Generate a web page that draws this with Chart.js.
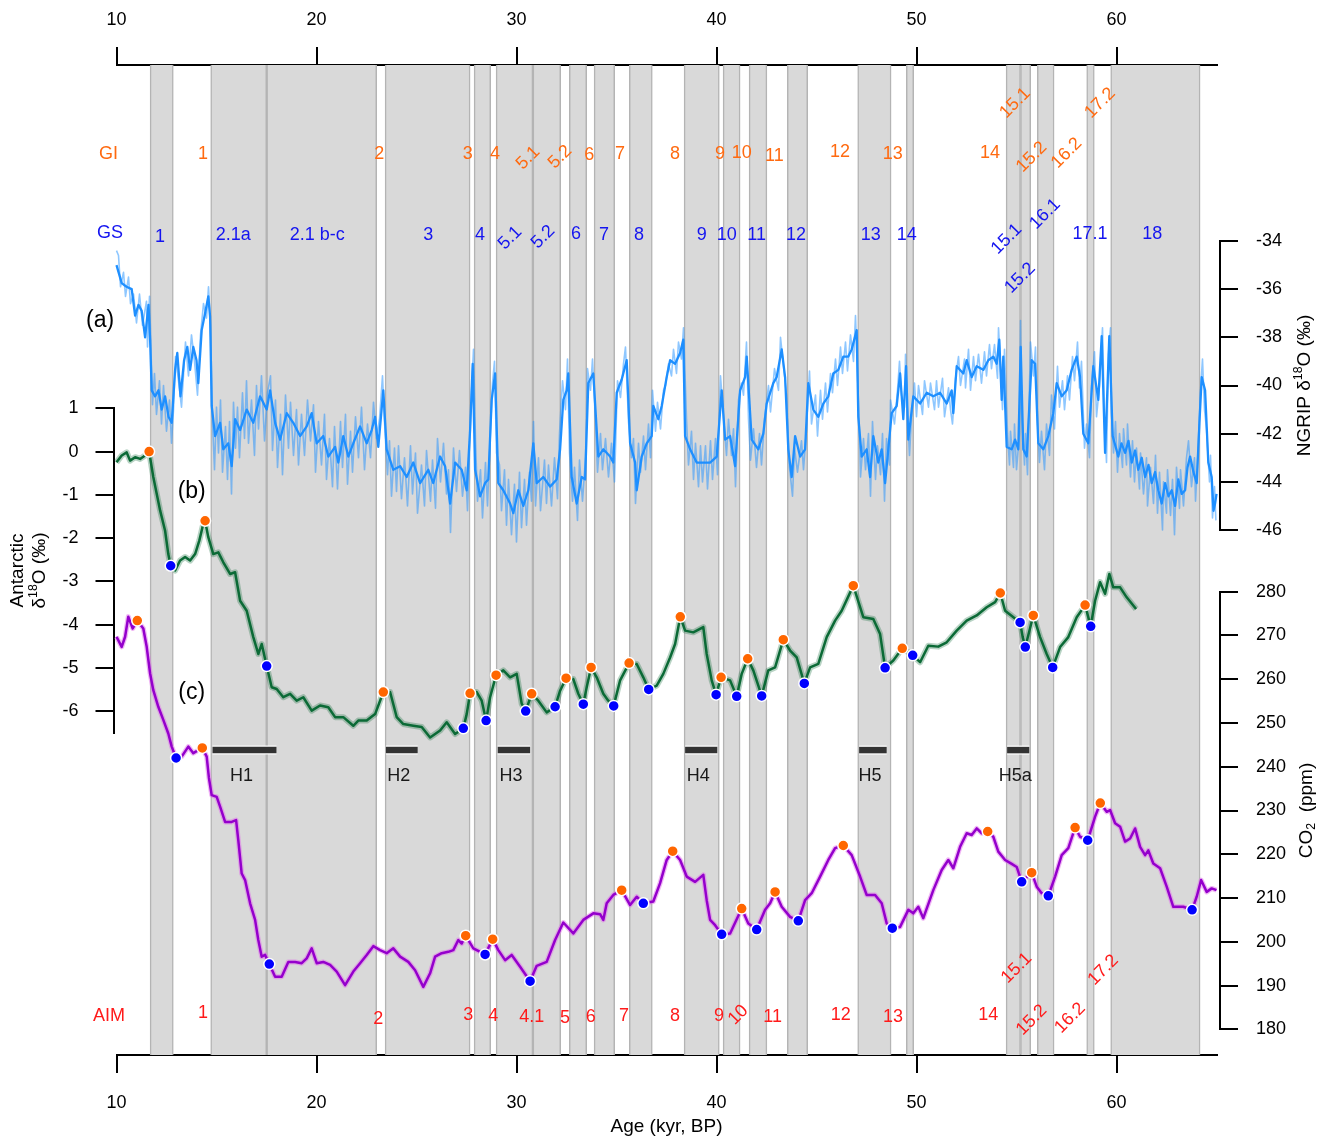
<!DOCTYPE html>
<html>
<head>
<meta charset="utf-8">
<script src="https://cdn.jsdelivr.net/npm/chart.js@4.4.1/dist/chart.umd.min.js"></script>
<style>
  body { margin: 0; background: #fff; }
</style>
</head>
<body>
<canvas id="grafico" width="1325" height="1136"></canvas>
<script>
// ---- data (age in kyr BP) ----
const xTicks = [10, 20, 30, 40, 50, 60];
const antTicks = [1, 0, -1, -2, -3, -4, -5, -6];
const ngripTicks = [-34, -36, -38, -40, -42, -44, -46];
const co2Ticks = [280, 270, 260, 250, 240, 230, 220, 210, 200, 190, 180];

// Greenland stadials (grey bands)
const stadials = [[11.68, 12.84], [14.71, 17.51], [17.51, 23.01], [23.43, 27.68], [27.88, 28.71],
  [28.98, 30.82], [30.82, 32.21], [32.64, 33.51], [33.88, 34.91], [35.64, 36.79], [38.38, 40.14],
  [40.33, 41.18], [41.63, 42.52], [43.54, 44.56], [47.06, 48.73], [49.49, 49.86], [54.48, 55.2],
  [55.2, 55.71], [56.04, 56.88], [58.51, 58.89], [59.71, 64.18]];

// Heinrich events
const heinrich = [[14.8, 18.0], [23.47, 25.06], [29.06, 30.68], [38.43, 40.04], [47.13, 48.51], [54.53, 55.64]];
const heinrichNames = ['H1', 'H2', 'H3', 'H4', 'H5', 'H5a'];

// NGRIP d18O (permil), smoothed
const ngrip = [[10.0,-35.0],[10.26,-35.75],[10.5,-35.9],[10.76,-36.0],[10.93,-37.1],[11.1,-36.65],[11.26,-36.9],[11.43,-38.0],[11.6,-36.65],[11.68,-38.1],[11.76,-40.2],[11.93,-40.45],[12.1,-40.2],[12.26,-41.0],[12.43,-40.45],[12.6,-41.3],[12.76,-41.55],[12.93,-39.35],[13.04,-38.65],[13.2,-40.45],[13.38,-38.95],[13.54,-38.4],[13.68,-39.35],[13.84,-38.4],[14.0,-38.95],[14.09,-39.9],[14.26,-37.7],[14.43,-37.0],[14.59,-36.3],[14.68,-37.15],[14.76,-40.85],[14.93,-42.1],[15.18,-41.55],[15.34,-42.65],[15.59,-42.4],[15.76,-43.35],[15.93,-41.4],[16.18,-41.85],[16.51,-41.0],[16.84,-41.55],[17.18,-40.45],[17.51,-41.0],[17.68,-40.2],[17.93,-41.55],[18.18,-42.25],[18.51,-41.15],[18.84,-41.55],[19.18,-42.1],[19.51,-41.7],[19.76,-41.15],[20.01,-42.4],[20.34,-42.1],[20.59,-42.95],[20.93,-42.55],[21.09,-43.2],[21.34,-42.1],[21.59,-42.95],[21.84,-42.4],[22.18,-41.7],[22.51,-42.4],[22.76,-41.85],[22.93,-41.3],[23.09,-42.55],[23.34,-40.2],[23.51,-42.65],[23.84,-43.5],[24.18,-43.35],[24.51,-43.8],[24.84,-43.2],[25.18,-44.05],[25.59,-43.5],[25.84,-44.05],[26.18,-42.95],[26.43,-43.35],[26.68,-44.9],[26.93,-43.2],[27.26,-43.5],[27.51,-44.35],[27.68,-41.85],[27.81,-39.1],[27.93,-43.5],[28.18,-44.6],[28.43,-44.05],[28.59,-43.9],[28.76,-40.6],[28.93,-39.5],[29.09,-44.05],[29.34,-44.35],[29.68,-44.9],[29.84,-45.3],[30.09,-44.35],[30.34,-45.0],[30.59,-44.35],[30.84,-42.4],[31.01,-44.05],[31.34,-43.8],[31.68,-44.2],[32.01,-43.9],[32.18,-42.65],[32.34,-40.6],[32.51,-40.2],[32.59,-39.5],[32.76,-43.8],[33.01,-44.9],[33.26,-43.8],[33.43,-43.9],[33.59,-39.9],[33.84,-39.5],[34.09,-42.95],[34.34,-42.65],[34.68,-42.95],[34.84,-43.2],[35.01,-40.3],[35.26,-39.75],[35.51,-38.95],[35.68,-42.4],[35.93,-43.2],[36.01,-44.35],[36.26,-42.95],[36.51,-42.4],[36.76,-42.1],[36.84,-40.85],[37.09,-41.4],[37.26,-40.85],[37.51,-39.65],[37.68,-38.95],[37.93,-39.1],[38.18,-38.65],[38.34,-38.1],[38.43,-42.1],[38.68,-42.65],[39.01,-43.2],[39.34,-43.2],[39.68,-43.2],[40.01,-42.95],[40.26,-40.2],[40.43,-42.25],[40.68,-42.1],[40.93,-43.35],[41.18,-40.2],[41.43,-39.65],[41.51,-38.8],[41.76,-42.25],[42.09,-42.65],[42.34,-42.0],[42.51,-40.75],[42.84,-39.9],[43.01,-39.65],[43.26,-38.5],[43.43,-39.65],[43.59,-42.65],[43.76,-43.8],[43.93,-42.1],[44.18,-42.95],[44.43,-42.65],[44.59,-39.9],[44.84,-41.0],[45.09,-41.3],[45.34,-40.75],[45.59,-40.45],[45.84,-39.5],[46.09,-39.35],[46.34,-38.8],[46.59,-38.8],[46.76,-38.5],[47.01,-37.7],[47.09,-41.3],[47.26,-42.95],[47.51,-42.65],[47.68,-43.8],[47.84,-42.1],[48.09,-43.2],[48.26,-42.65],[48.43,-44.05],[48.59,-42.65],[48.76,-41.15],[49.01,-40.85],[49.18,-39.5],[49.34,-41.4],[49.48,-39.2],[49.59,-42.25],[49.84,-40.45],[50.18,-40.75],[50.51,-40.3],[50.84,-40.45],[51.18,-40.3],[51.51,-40.75],[51.76,-40.2],[51.84,-41.15],[52.01,-39.2],[52.34,-39.5],[52.51,-38.95],[52.76,-39.65],[53.01,-39.2],[53.34,-39.35],[53.59,-38.95],[53.84,-38.8],[54.01,-39.1],[54.14,-38.1],[54.26,-40.6],[54.34,-38.8],[54.51,-42.55],[54.76,-42.65],[54.93,-42.25],[55.09,-42.65],[55.21,-38.4],[55.34,-42.65],[55.51,-42.95],[55.76,-38.95],[55.93,-39.1],[56.09,-42.4],[56.34,-42.65],[56.59,-42.1],[56.84,-41.15],[57.01,-39.9],[57.26,-40.45],[57.51,-40.2],[57.76,-39.35],[58.01,-38.8],[58.18,-39.65],[58.34,-42.0],[58.59,-42.4],[58.84,-39.2],[59.09,-40.6],[59.26,-37.95],[59.43,-42.8],[59.64,-37.95],[59.81,-42.1],[60.09,-42.95],[60.25,-42.4],[60.43,-42.8],[60.6,-42.3],[60.76,-43.2],[60.93,-42.7],[61.09,-43.5],[61.26,-43.0],[61.43,-43.8],[61.6,-43.3],[61.76,-44.05],[61.93,-43.6],[62.09,-44.35],[62.26,-44.9],[62.43,-44.05],[62.6,-44.6],[62.76,-44.35],[62.93,-45.0],[63.09,-43.9],[63.26,-44.5],[63.43,-44.35],[63.55,-43.4],[63.68,-42.95],[63.85,-43.6],[64.01,-44.05],[64.15,-41.5],[64.26,-39.65],[64.43,-40.2],[64.59,-43.2],[64.76,-43.8],[64.85,-45.2],[64.93,-44.9],[65.0,-44.5]];

// NGRIP d18O (permil), raw
const ngripRaw = [[10.0,-34.4],[10.1,-34.6],[10.2,-35.9],[10.35,-35.3],[10.45,-36.3],[10.6,-35.5],[10.7,-36.6],[10.85,-36.2],[11.0,-37.4],[11.15,-36.2],[11.3,-37.5],[11.5,-36.5],[11.55,-38.4],[11.65,-36.3],
  [11.8,-40.8],[11.9,-39.5],[12.0,-41.2],[12.15,-39.8],[12.25,-41.6],[12.35,-40.0],[12.5,-41.9],[12.65,-40.6],[12.75,-42.4],[12.85,-41.0],[12.95,-38.8],
  [13.1,-39.8],[13.25,-40.9],[13.45,-38.2],[13.6,-39.6],[13.75,-37.9],[13.9,-39.0],[14.05,-40.4],[14.2,-37.9],[14.35,-36.6],[14.5,-37.2],[14.6,-35.9],[14.7,-37.5],
  [14.8,-41.5],[14.9,-43.5],[15.0,-40.9],[15.1,-42.8],[15.2,-40.6],[15.3,-43.6],[15.45,-41.7],[15.55,-43.9],[15.65,-41.5],[15.75,-44.5],[15.85,-40.7],[15.95,-42.6],[16.05,-40.9],[16.15,-43.0],[16.3,-40.3],[16.4,-42.2],[16.5,-39.8],[16.6,-42.4],[16.75,-40.6],[16.9,-42.9],[17.0,-40.0],[17.1,-41.8],[17.25,-39.6],[17.4,-42.3],[17.55,-40.3],[17.7,-39.6],[17.8,-42.7],[17.95,-40.6],[18.05,-43.4],[18.2,-41.2],[18.3,-43.7],[18.45,-40.4],[18.6,-42.6],[18.7,-40.7],[18.85,-42.9],[19.0,-41.0],[19.1,-43.3],[19.25,-41.2],[19.4,-42.9],[19.55,-40.6],[19.7,-42.3],[19.85,-40.8],[19.95,-43.6],[20.1,-41.5],[20.25,-43.3],[20.4,-41.2],[20.5,-43.9],[20.65,-42.2],[20.8,-44.2],[20.9,-41.7],[21.05,-44.3],[21.2,-41.5],[21.3,-43.4],[21.45,-41.2],[21.55,-44.1],[21.7,-41.9],[21.8,-43.6],[21.95,-41.3],[22.1,-43.0],[22.25,-40.9],[22.4,-43.5],[22.55,-41.6],[22.7,-43.0],[22.85,-40.7],[23.0,-42.2],[23.15,-41.4],[23.3,-39.6],[23.4,-41.5],
  [23.55,-43.7],[23.65,-42.3],[23.75,-44.6],[23.9,-42.6],[24.0,-44.4],[24.1,-42.5],[24.25,-44.7],[24.4,-43.0],[24.55,-45.0],[24.7,-42.5],[24.8,-44.5],[24.95,-42.8],[25.05,-45.3],[25.25,-43.3],[25.4,-45.0],[25.5,-42.7],[25.7,-44.8],[25.8,-43.1],[25.95,-45.1],[26.05,-42.2],[26.2,-44.0],[26.35,-42.4],[26.5,-44.5],[26.6,-43.5],[26.7,-46.1],[26.85,-42.6],[27.0,-44.4],[27.15,-42.7],[27.3,-44.6],[27.45,-43.4],[27.55,-45.2],
  [27.75,-40.3],[27.85,-38.5],[27.95,-42.3],[28.05,-44.8],[28.2,-43.5],[28.3,-45.5],[28.45,-43.2],[28.55,-45.0],[28.65,-42.9],[28.8,-39.9],[28.9,-39.0],[29.0,-42.8],
  [29.15,-43.3],[29.25,-45.2],[29.4,-43.5],[29.5,-45.8],[29.6,-43.9],[29.75,-46.2],[29.9,-44.1],[30.0,-46.5],[30.15,-43.6],[30.25,-45.9],[30.4,-43.9],[30.5,-45.8],[30.65,-43.6],[30.75,-44.8],[30.85,-41.5],[30.95,-45.0],[31.1,-43.0],[31.2,-45.2],[31.4,-43.1],[31.5,-44.9],[31.6,-43.3],[31.75,-45.0],[31.9,-43.0],[32.05,-44.7],[32.15,-42.0],
  [32.3,-39.8],[32.45,-41.0],[32.55,-38.9],[32.65,-42.8],[32.8,-44.8],[32.9,-43.4],[33.05,-45.6],[33.15,-43.1],[33.3,-44.8],[33.45,-43.0],[33.55,-39.3],[33.7,-40.2],[33.8,-38.9],[33.95,-41.5],[34.05,-43.6],[34.2,-42.0],[34.3,-43.5],[34.45,-42.2],[34.6,-43.8],[34.75,-42.4],[34.9,-44.0],[35.05,-39.8],[35.2,-40.5],[35.35,-39.1],[35.45,-38.4],[35.6,-41.5],[35.75,-43.0],[35.85,-42.2],[35.95,-44.9],
  [36.1,-42.4],[36.2,-43.6],[36.35,-42.1],[36.45,-43.5],[36.6,-41.6],[36.7,-43.0],[36.8,-40.2],[36.95,-41.9],[37.05,-40.7],[37.2,-41.8],[37.35,-40.2],[37.45,-40.0],[37.6,-39.1],[37.75,-39.6],[37.85,-38.5],[38.0,-39.5],[38.1,-38.2],[38.25,-38.9],[38.35,-37.6],
  [38.5,-41.4],[38.6,-43.3],[38.75,-41.9],[38.85,-43.9],[38.95,-42.4],[39.1,-44.2],[39.2,-42.5],[39.3,-44.0],[39.45,-42.5],[39.55,-44.3],[39.7,-42.3],[39.8,-43.9],[39.95,-42.2],[40.05,-43.7],
  [40.2,-39.6],[40.35,-41.3],[40.5,-42.9],[40.6,-41.4],[40.75,-42.9],[40.85,-41.8],[40.95,-44.2],[41.1,-40.6],[41.25,-39.9],[41.35,-40.4],[41.5,-38.2],[41.6,-41.4],[41.7,-43.1],[41.85,-41.8],[42.0,-43.4],[42.15,-42.0],[42.25,-43.3],[42.4,-41.4],[42.6,-40.0],[42.7,-41.1],[42.9,-39.3],[43.1,-40.2],[43.2,-38.0],[43.35,-39.2],[43.5,-40.4],[43.65,-43.4],[43.8,-44.6],[43.9,-42.6],[44.05,-43.6],[44.25,-42.3],[44.35,-43.5],[44.5,-41.8],
  [44.65,-39.4],[44.75,-41.6],[44.95,-40.4],[45.05,-42.1],[45.2,-40.2],[45.3,-41.4],[45.45,-39.9],[45.55,-41.1],[45.7,-39.5],[45.8,-40.3],[45.95,-38.9],[46.05,-40.0],[46.2,-38.4],[46.3,-39.5],[46.45,-38.2],[46.55,-39.4],[46.7,-37.9],[46.85,-39.0],[46.95,-37.1],
  [47.15,-42.0],[47.2,-43.8],[47.35,-42.2],[47.45,-43.5],[47.6,-42.0],[47.7,-44.6],[47.8,-41.5],[47.95,-43.9],[48.05,-42.5],[48.2,-43.7],[48.3,-42.0],[48.4,-44.8],[48.5,-42.2],[48.65,-43.3],[48.7,-40.6],
  [48.9,-41.6],[49.05,-40.2],[49.15,-39.0],[49.25,-40.4],[49.4,-40.9],[49.45,-38.7],[49.55,-41.2],[49.65,-42.9],[49.75,-41.3],[49.9,-39.9],[50.0,-41.3],[50.1,-40.0],[50.3,-41.2],[50.4,-39.8],[50.6,-40.9],[50.7,-39.9],[50.9,-41.0],[51.0,-39.8],[51.1,-40.9],[51.3,-39.7],[51.4,-41.3],[51.6,-40.1],[51.7,-41.0],[51.8,-41.6],[51.95,-39.7],[52.1,-38.8],[52.2,-40.0],[52.4,-38.9],[52.45,-40.1],[52.6,-38.5],[52.7,-40.2],[52.85,-38.8],[52.95,-39.8],[53.1,-38.7],[53.25,-39.9],[53.4,-38.6],[53.5,-39.6],[53.65,-38.3],[53.75,-39.3],[53.9,-38.3],[54.05,-39.7],[54.1,-37.6],[54.2,-39.2],[54.3,-41.0],[54.4,-38.5],
  [54.55,-42.0],[54.65,-43.3],[54.7,-41.9],[54.85,-43.4],[54.9,-41.6],[55.0,-43.5],[55.15,-42.0],[55.2,-37.3],[55.25,-41.0],[55.4,-43.3],[55.45,-42.0],[55.55,-43.7],[55.65,-40.0],[55.7,-38.2],[55.85,-39.6],[55.95,-38.4],[56.05,-41.5],[56.15,-43.2],[56.25,-41.9],[56.4,-43.5],[56.5,-41.6],[56.65,-42.9],[56.75,-40.4],[56.9,-41.8],
  [57.05,-39.2],[57.15,-40.9],[57.3,-39.8],[57.4,-41.0],[57.55,-39.6],[57.65,-40.6],[57.8,-38.8],[57.9,-39.8],[58.05,-38.2],[58.15,-40.1],[58.25,-39.0],[58.4,-42.6],[58.5,-41.6],[58.65,-43.0],[58.75,-40.0],[58.9,-38.6],[59.0,-41.3],[59.15,-40.0],[59.3,-37.6],[59.4,-41.4],[59.5,-43.2],[59.6,-38.7],[59.7,-37.6],[59.75,-41.2],
  [59.85,-42.8],[59.95,-41.5],[60.05,-43.6],[60.15,-42.0],[60.3,-43.4],[60.35,-41.8],[60.5,-43.3],[60.55,-41.6],[60.7,-43.8],[60.8,-42.3],[60.9,-44.0],[61.0,-42.6],[61.15,-44.3],[61.2,-42.8],[61.35,-44.5],[61.5,-43.0],[61.55,-45.0],[61.7,-43.4],[61.85,-44.9],[61.95,-42.9],[62.05,-45.3],[62.15,-43.6],[62.3,-46.0],[62.35,-44.0],[62.5,-45.3],[62.55,-43.5],[62.7,-45.4],[62.8,-43.9],[62.9,-46.2],[63.0,-43.4],[63.15,-45.1],[63.2,-43.5],[63.35,-45.0],[63.5,-43.0],[63.6,-42.3],[63.75,-44.2],[63.9,-43.0],[63.95,-44.8],[64.05,-43.2],[64.2,-40.2],[64.3,-38.9],[64.4,-41.0],[64.5,-41.8],[64.65,-44.0],[64.7,-42.9],[64.8,-45.5],[64.9,-44.2],[64.97,-45.6]];

// Antarctic d18O anomaly (permil)
const antarctic = [[10.0,-0.25],[10.26,-0.09],[10.51,-0.02],[10.68,-0.21],[10.93,-0.13],[11.18,-0.17],[11.43,-0.09],[11.63,0.0],[11.84,-0.59],[12.18,-1.36],[12.43,-1.83],[12.59,-2.37],[12.71,-2.64],[12.93,-2.75],[13.18,-2.52],[13.43,-2.44],[13.68,-2.52],[13.93,-2.37],[14.14,-2.06],[14.34,-1.67],[14.43,-1.6],[14.59,-1.98],[14.84,-2.37],[15.09,-2.33],[15.34,-2.56],[15.68,-2.83],[15.93,-2.79],[16.18,-3.45],[16.51,-3.68],[16.84,-4.29],[17.09,-4.68],[17.26,-4.45],[17.51,-4.96],[17.76,-5.45],[18.01,-5.49],[18.34,-5.68],[18.68,-5.6],[19.01,-5.76],[19.34,-5.68],[19.76,-5.99],[20.18,-5.87],[20.59,-5.91],[20.93,-6.14],[21.34,-6.14],[21.84,-6.34],[22.09,-6.22],[22.51,-6.22],[22.93,-6.07],[23.18,-5.76],[23.34,-5.56],[23.68,-5.56],[24.01,-6.14],[24.34,-6.3],[24.84,-6.34],[25.26,-6.37],[25.68,-6.61],[26.18,-6.45],[26.51,-6.26],[26.93,-6.53],[27.34,-6.4],[27.51,-6.07],[27.68,-5.59],[28.01,-5.56],[28.26,-5.76],[28.48,-6.22],[28.68,-5.68],[28.98,-5.17],[29.34,-5.06],[29.68,-5.22],[30.01,-5.14],[30.26,-5.83],[30.46,-6.0],[30.76,-5.6],[31.09,-5.76],[31.51,-6.03],[31.93,-5.9],[32.18,-5.53],[32.48,-5.24],[32.84,-5.26],[33.09,-5.6],[33.34,-5.84],[33.51,-5.45],[33.73,-4.99],[34.01,-5.22],[34.34,-5.6],[34.59,-5.76],[34.86,-5.88],[35.18,-5.29],[35.63,-4.89],[36.01,-4.91],[36.34,-5.22],[36.61,-5.5],[37.01,-5.41],[37.34,-5.14],[37.68,-4.76],[37.93,-4.45],[38.19,-3.82],[38.43,-4.14],[38.84,-4.18],[39.34,-4.06],[39.51,-4.68],[39.76,-5.29],[39.98,-5.62],[40.23,-5.22],[40.68,-5.29],[41.01,-5.66],[41.26,-5.14],[41.56,-4.79],[41.84,-5.06],[42.26,-5.65],[42.59,-5.06],[42.93,-4.99],[43.34,-4.35],[43.68,-4.6],[44.01,-4.76],[44.39,-5.36],[44.68,-4.99],[45.09,-4.91],[45.51,-4.29],[45.93,-3.91],[46.26,-3.68],[46.84,-3.1],[47.34,-3.83],[47.84,-3.87],[48.18,-4.22],[48.43,-5.0],[48.84,-4.83],[49.29,-4.55],[49.81,-4.71],[50.18,-4.87],[50.59,-4.49],[51.09,-4.51],[51.51,-4.41],[52.01,-4.14],[52.51,-3.91],[53.01,-3.79],[53.51,-3.6],[53.93,-3.48],[54.19,-3.27],[54.43,-3.68],[55.18,-3.95],[55.31,-4.29],[55.44,-4.52],[55.84,-3.79],[56.18,-4.29],[56.51,-4.68],[56.81,-4.99],[57.18,-4.52],[57.59,-4.29],[58.01,-3.83],[58.43,-3.55],[58.71,-4.04],[58.93,-3.45],[59.18,-3.02],[59.43,-3.29],[59.64,-2.83],[59.84,-3.14],[60.18,-3.14],[60.51,-3.37],[60.98,-3.64]];
const antMax = [[11.63,0.0],[14.43,-1.6],[23.34,-5.56],[27.68,-5.59],[28.98,-5.17],[30.76,-5.6],[32.48,-5.24],[33.73,-4.99],[35.63,-4.89],[38.19,-3.82],[40.23,-5.22],[41.56,-4.79],[43.34,-4.35],[46.84,-3.1],[49.29,-4.55],[54.19,-3.27],[55.84,-3.79],[58.43,-3.55]];
const antMin = [[12.71,-2.64],[17.51,-4.96],[27.34,-6.4],[28.48,-6.22],[30.46,-6.0],[31.93,-5.9],[33.34,-5.84],[34.86,-5.88],[36.61,-5.5],[39.98,-5.62],[41.01,-5.66],[42.26,-5.65],[44.39,-5.36],[48.43,-5.0],[49.81,-4.71],[55.18,-3.95],[55.44,-4.52],[56.81,-4.99],[58.71,-4.04]];

// CO2 (ppm)
const co2 = [[10.0,269.7],[10.26,267.4],[10.43,269.7],[10.59,274.3],[10.81,271.6],[11.04,273.4],[11.34,271.6],[11.51,267.4],[11.68,261.3],[11.84,257.5],[12.09,253.7],[12.34,250.7],[12.59,247.6],[12.76,244.6],[12.98,242.0],[13.26,242.3],[13.59,244.6],[13.84,243.1],[14.09,243.8],[14.29,244.3],[14.51,242.3],[14.62,237.5],[14.76,233.5],[15.01,233.1],[15.18,230.9],[15.43,227.4],[15.76,227.4],[15.98,227.8],[16.09,223.2],[16.26,215.6],[16.43,214.1],[16.68,208.8],[16.93,205.0],[17.09,200.4],[17.26,196.6],[17.43,197.0],[17.64,194.9],[17.93,192.0],[18.26,192.0],[18.59,195.4],[18.93,195.4],[19.26,195.1],[19.51,196.2],[19.76,198.5],[20.01,195.1],[20.34,195.4],[20.68,194.7],[21.01,193.2],[21.43,190.1],[21.84,193.2],[22.18,195.1],[22.51,197.0],[22.84,199.0],[23.18,198.1],[23.51,197.4],[23.84,198.5],[24.18,196.6],[24.59,195.4],[24.93,193.5],[25.34,189.7],[25.68,192.8],[25.93,196.6],[26.26,197.4],[26.59,197.7],[26.84,198.1],[27.09,200.4],[27.26,199.6],[27.46,201.4],[27.84,198.5],[28.43,197.1],[28.81,200.6],[29.09,198.1],[29.43,195.8],[29.76,197.0],[30.18,194.3],[30.68,191.0],[31.01,194.5],[31.51,195.4],[31.93,200.4],[32.34,204.4],[32.84,201.9],[33.34,205.0],[33.84,206.5],[34.18,206.3],[34.34,205.0],[34.51,208.8],[34.84,210.7],[35.26,211.8],[35.68,208.4],[36.01,210.3],[36.34,208.8],[36.84,209.2],[37.18,213.4],[37.51,218.7],[37.81,220.7],[38.18,218.7],[38.51,214.9],[38.93,213.7],[39.34,215.3],[39.51,209.5],[39.68,205.0],[39.93,203.8],[40.26,201.7],[40.68,201.9],[41.26,207.6],[41.59,204.2],[42.01,202.8],[42.43,207.3],[42.68,208.8],[42.93,211.4],[43.26,208.0],[43.68,205.7],[44.09,204.8],[44.43,209.5],[44.76,211.1],[45.18,214.9],[45.59,218.7],[45.93,221.4],[46.34,222.0],[46.76,219.8],[47.18,214.9],[47.51,210.7],[47.93,210.7],[48.26,208.8],[48.51,204.2],[48.79,203.1],[49.18,203.4],[49.59,207.3],[49.84,206.5],[50.09,208.0],[50.34,205.4],[50.84,211.8],[51.26,216.4],[51.59,218.7],[51.84,216.8],[52.18,221.7],[52.51,224.8],[52.76,224.4],[53.01,225.9],[53.26,224.8],[53.56,225.2],[53.84,224.0],[54.09,220.6],[54.43,218.7],[54.76,217.8],[55.01,217.1],[55.26,213.7],[55.76,215.8],[56.01,212.6],[56.26,211.1],[56.59,210.5],[56.93,214.9],[57.26,219.8],[57.59,221.4],[57.93,226.1],[58.18,224.0],[58.56,223.2],[58.93,228.6],[59.19,231.7],[59.51,229.7],[59.68,230.1],[59.93,227.1],[60.18,226.3],[60.43,222.9],[60.68,223.6],[60.93,225.9],[61.18,221.7],[61.43,219.8],[61.59,220.9],[61.84,217.9],[62.18,216.8],[62.51,212.6],[62.84,208.0],[63.34,208.0],[63.78,207.3],[64.01,210.3],[64.23,214.1],[64.51,211.4],[64.76,212.2],[65.0,211.8]];
const co2Max = [[11.04,273.4],[14.29,244.3],[27.46,201.4],[28.81,200.6],[35.26,211.8],[37.81,220.7],[41.26,207.6],[42.93,211.4],[46.34,222.0],[53.56,225.2],[55.76,215.8],[57.93,226.1],[59.19,231.7]];
const co2Min = [[12.98,242.0],[17.64,194.9],[28.43,197.1],[30.68,191.0],[36.34,208.8],[40.26,201.7],[42.01,202.8],[44.09,204.8],[48.79,203.1],[55.26,213.7],[56.59,210.5],[58.56,223.2],[63.78,207.3]];

// event labels: [age, text, dy, rotation]
const giLabels = [[9.6,'GI'],[14.33,'1'],[23.14,'2'],[27.56,'3'],[28.93,'4'],[30.58,'5.1',4,-45],[32.18,'5.2',3,-45],[33.64,'6',1],[35.18,'7'],[37.93,'8'],[40.18,'9'],[41.26,'10',-1],[42.89,'11',2],[46.18,'12',-2],[48.81,'13'],[53.68,'14',-1],[54.93,'15.1',-51,-45],[55.76,'15.2',3,-45],[57.51,'16.2',-1,-45],[59.18,'17.2',-51,-45]];
const gsLabels = [[9.68,'GS',-2],[12.18,'1',2],[15.84,'2.1a'],[20.04,'2.1 b-c'],[25.59,'3'],[28.18,'4'],[29.68,'5.1',3,-45],[31.33,'5.2',2,-45],[32.98,'6',-1],[34.38,'7'],[36.13,'8'],[39.26,'9'],[40.51,'10'],[42.01,'11'],[43.98,'12'],[47.71,'13'],[49.51,'14'],[54.51,'15.1',4,-45],[56.43,'16.1',-21,-45],[55.18,'15.2',43,-45],[58.68,'17.1',-1],[61.79,'18',-1]];
const aimLabels = [[9.63,'AIM'],[14.33,'1',-3],[23.09,'2',3],[27.59,'3',-1],[28.84,'4'],[30.76,'4.1',1],[32.43,'5',2],[33.71,'6',1],[35.38,'7'],[37.93,'8'],[40.13,'9'],[41.09,'10',-1,-45],[42.81,'11',1],[46.21,'12',-1],[48.83,'13',1],[53.59,'14',-1],[55.01,'15.1',-48,-45],[55.76,'15.2',4,-45],[57.68,'16.2',2,-45],[59.34,'17.2',-46,-45]];
const panelLabels = [[9.18, 321, '(a)'], [13.76, 492, '(b)'], [13.76, 693, '(c)']];

// ---- styles ----
const FONT = '"Liberation Sans", Arial, Helvetica, sans-serif';
Chart.defaults.font.family = FONT;
Chart.defaults.color = '#000';

const hLevel = 0.692;   // Heinrich bars, fraction of plot height from top

const pts = arr => arr.map(([x, y]) => ({x, y}));

function line(label, data, yAxisID, color, width, order) {
  return {
    type: 'line', label, data: pts(data), xAxisID: 'x', yAxisID,
    borderColor: color, borderWidth: width, pointRadius: 0, tension: 0,
    borderJoinStyle: 'round', clip: false, order
  };
}

function dots(label, data, yAxisID, color) {
  return {
    type: 'line', label, data: pts(data), xAxisID: 'x', yAxisID, showLine: false,
    pointRadius: 5.5, pointBorderWidth: 1.5, pointBackgroundColor: color,
    pointBorderColor: '#fff', clip: false, order: 1
  };
}

const axisGrid = {display: true, drawOnChartArea: false, drawTicks: true, tickLength: 18, color: '#000', lineWidth: 2};
const axisBorder = {display: true, color: '#000', width: 2};
const setTicks = list => s => { s.ticks = list.map(v => ({value: v})); };
const spacer = (position, stack, stackWeight, weight) => ({
  type: 'linear', axis: 'y', position, stack, stackWeight, weight, display: false, min: 0, max: 1
});

const datasets = [
  dots('Antarctic max', antMax, 'yA', '#ff6600'),
  dots('Antarctic min', antMin, 'yA', '#0000ff'),
  dots('CO2 max', co2Max, 'yC', '#ff6600'),
  dots('CO2 min', co2Min, 'yC', '#0000ff'),
  line('NGRIP', ngrip, 'yN', '#1e8fff', 2.3, 5),
  line('Antarctic', antarctic, 'yA', '#0b6a36', 2.5, 5),
  line('CO2', co2, 'yC', '#9400cc', 2.5, 5),
  line('NGRIP raw', ngripRaw, 'yN', 'rgba(30,144,255,0.5)', 1.6, 10),
  line('Antarctic raw', antarctic, 'yA', 'rgba(20,110,60,0.3)', 6, 10),
  line('CO2 raw', co2, 'yC', 'rgba(225,110,235,0.5)', 5, 10),
  ...heinrich.map(([a, b], i) => ({
    type: 'line', label: heinrichNames[i], data: [{x: a, y: hLevel}, {x: b, y: hLevel}],
    xAxisID: 'x', yAxisID: 'yh', borderColor: '#333', borderWidth: 6.5, pointRadius: 0, clip: false, order: 7
  })),
  ...heinrich.map(([a, b], i) => ({
    type: 'line', label: heinrichNames[i] + ' edge', data: [{x: a, y: hLevel}, {x: b, y: hLevel}],
    xAxisID: 'x', yAxisID: 'yh', borderColor: '#fff', borderWidth: 9, pointRadius: 0, clip: false, order: 8
  })),
  {
    type: 'bar', label: 'GS', indexAxis: 'y', xAxisID: 'x', yAxisID: 'yc',
    data: stadials.map(([a, b]) => ({x: [a, b], y: 'GS'})),
    backgroundColor: '#d9d9d9', borderColor: '#b4b4b4',
    borderWidth: {left: 1.5, right: 1.5, top: 0, bottom: 0}, borderSkipped: false,
    barPercentage: 1, categoryPercentage: 1, order: 20
  }
];

function richText(ctx, parts, cx, cy, size) {
  const widths = parts.map(([t, mode]) => {
    ctx.font = `${mode ? size * 0.65 : size}px ${FONT}`;
    return ctx.measureText(t).width;
  });
  let x = -widths.reduce((a, b) => a + b, 0) / 2;
  ctx.save();
  ctx.translate(cx, cy);
  ctx.rotate(-Math.PI / 2);
  ctx.textAlign = 'left';
  ctx.textBaseline = 'middle';
  parts.forEach(([t, mode], i) => {
    ctx.font = `${mode ? size * 0.65 : size}px ${FONT}`;
    const dy = mode === 'sup' ? -6 : mode === 'sub' ? 5 : 0;
    ctx.fillText(t, x, dy);
    x += widths[i];
  });
  ctx.restore();
}

const labelsPlugin = {
  id: 'labels',
  afterDatasetsDraw(chart) {
    const {ctx, scales} = chart;
    const px = k => scales.x.getPixelForValue(k);
    ctx.save();
    ctx.textAlign = 'center';
    ctx.textBaseline = 'middle';
    const row = (list, y, color) => {
      ctx.fillStyle = color;
      ctx.font = `18px ${FONT}`;
      for (const [k, text, dy = 0, rot = 0] of list) {
        ctx.save();
        ctx.translate(px(k), y + dy);
        ctx.rotate(rot * Math.PI / 180);
        ctx.fillText(text, 0, 0);
        ctx.restore();
      }
    };
    row(giLabels, 154, '#ff6a10');
    row(gsLabels, 235, '#1414f0');
    row(aimLabels, 1016, '#ff1a1a');

    ctx.fillStyle = '#1a1a1a';
    ctx.font = `18px ${FONT}`;
    const yBar = scales.yh.getPixelForValue(hLevel);
    heinrich.forEach(([a, b], i) => ctx.fillText(heinrichNames[i], px((a + b) / 2) - 3, yBar + 26));

    ctx.fillStyle = '#000';
    ctx.font = `23px ${FONT}`;
    panelLabels.forEach(([k, y, t]) => ctx.fillText(t, px(k), y));
    ctx.restore();
  },
  afterDraw(chart) {
    const {ctx, scales: {yA, yN, yC}} = chart;
    ctx.save();
    ctx.fillStyle = '#000';
    const midA = (yA.top + yA.bottom) / 2;
    richText(ctx, [['Antarctic']], yA.left + 18, midA, 19);
    richText(ctx, [['δ'], ['18', 'sup'], ['O (‰)']], yA.left + 40, midA, 19);
    richText(ctx, [['NGRIP δ'], ['18', 'sup'], ['O (‰)']], yN.right - 20, (yN.top + yN.bottom) / 2, 19);
    richText(ctx, [['CO'], ['2', 'sub'], ['  (ppm)']], yC.right - 18, (yC.top + yC.bottom) / 2, 19);
    ctx.restore();
  }
};

new Chart(document.getElementById('grafico'), {
  type: 'line',
  data: {datasets},
  options: {
    responsive: false,
    animation: false,
    layout: {padding: 0},
    plugins: {legend: {display: false}, tooltip: {enabled: false}},
    scales: {
      x: {
        type: 'linear', axis: 'x', position: 'bottom', min: 10, max: 65, z: 1,
        afterBuildTicks: setTicks(xTicks), afterFit: s => { s.height = 81; },
        grid: axisGrid, border: axisBorder,
        ticks: {font: {size: 18}, padding: 19, maxRotation: 0, autoSkip: false, callback: v => String(v)},
        title: {display: true, text: 'Age (kyr, BP)', font: {size: 19, lineHeight: 1}, padding: {top: 0, bottom: 0}}
      },
      x2: {
        type: 'linear', axis: 'x', position: 'top', min: 10, max: 65, z: 1,
        afterBuildTicks: setTicks(xTicks), afterFit: s => { s.height = 65; },
        grid: axisGrid, border: axisBorder,
        ticks: {font: {size: 18}, padding: 16, maxRotation: 0, autoSkip: false, callback: v => String(v)}
      },
      ls1: spacer('left', 'l', 343.3, 3),
      yA: {
        type: 'linear', axis: 'y', position: 'left', stack: 'l', stackWeight: 324.4, weight: 2,
        min: -6.5, max: 1,
        afterBuildTicks: setTicks(antTicks), afterFit: s => { s.width = 113.5; },
        grid: axisGrid, border: axisBorder,
        ticks: {font: {size: 18}, padding: 17, callback: v => String(v)}
      },
      ls2: spacer('left', 'l', 322.3, 1),
      gl: {type: 'linear', axis: 'y', position: 'left', weight: 0, display: false, afterFit: s => { s.width = 3; }},
      yh: {type: 'linear', axis: 'y', position: 'left', weight: 0, display: false, min: 0, max: 1, reverse: true},
      yc: {type: 'category', axis: 'y', position: 'left', weight: 0, display: false, labels: ['GS'], offset: true},
      gr: {type: 'linear', axis: 'y', position: 'right', weight: 0, display: false, afterFit: s => { s.width = 3.5; }},
      rs1: spacer('right', 'r', 176, 1),
      yN: {
        type: 'linear', axis: 'y', position: 'right', stack: 'r', stackWeight: 289, weight: 2,
        min: -46, max: -34,
        afterBuildTicks: setTicks(ngripTicks), afterFit: s => { s.width = 105; },
        grid: axisGrid, border: axisBorder,
        ticks: {font: {size: 18}, padding: 18, callback: v => String(v)}
      },
      rs2: spacer('right', 'r', 61.7, 3),
      yC: {
        type: 'linear', axis: 'y', position: 'right', stack: 'r', stackWeight: 437.6, weight: 4,
        min: 180, max: 280,
        afterBuildTicks: setTicks(co2Ticks), afterFit: s => { s.width = 105; },
        grid: axisGrid, border: axisBorder,
        ticks: {font: {size: 18}, padding: 18, callback: v => String(v)}
      },
      rs3: spacer('right', 'r', 25.7, 5)
    }
  },
  plugins: [labelsPlugin]
});
</script>
</body>
</html>
